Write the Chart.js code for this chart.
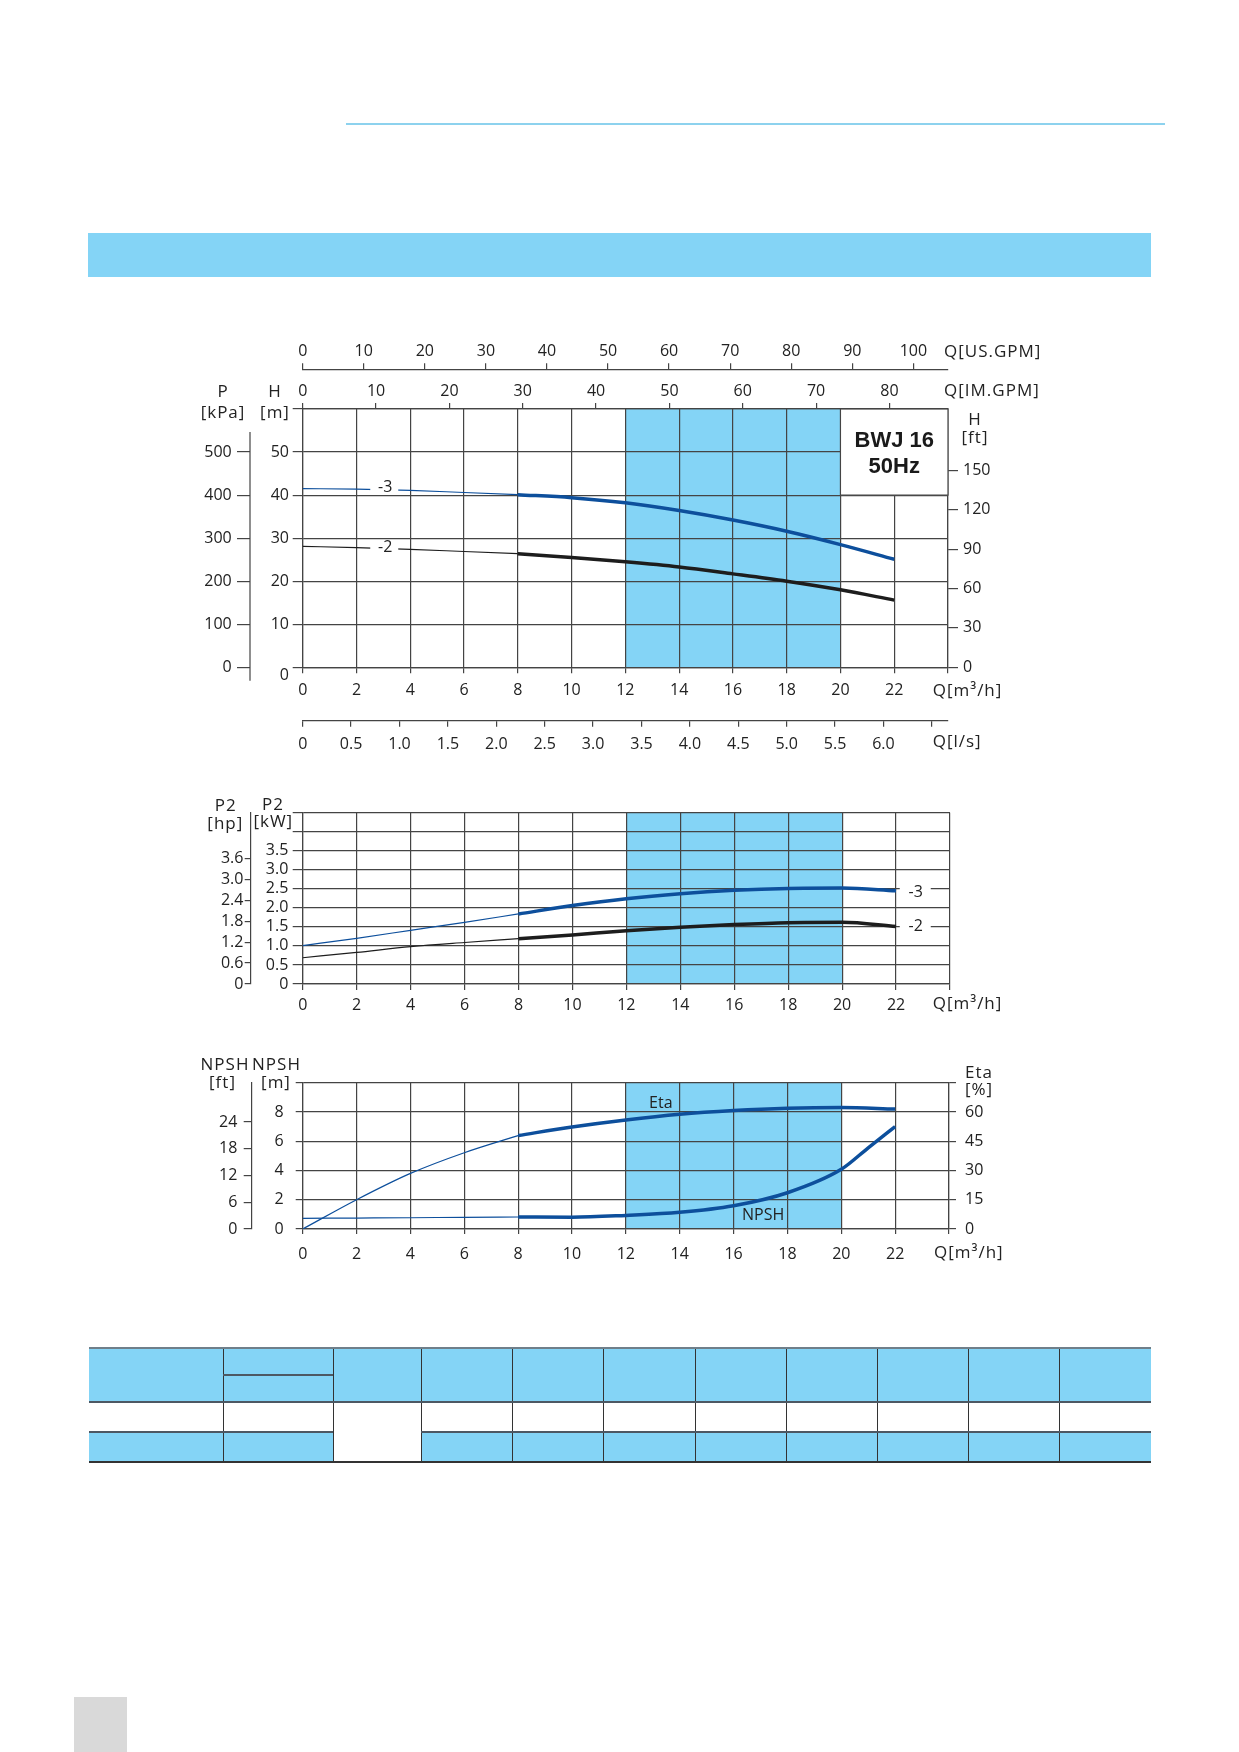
<!DOCTYPE html>
<html>
<head>
<meta charset="utf-8">
<title>BWJ 16 50Hz</title>
<script src="https://cdn.jsdelivr.net/npm/chart.js@4.4.1/dist/chart.umd.min.js"></script>
<style>
    body { margin: 0; background: #fff; }
    #page { position: relative; width: 1239px; height: 1752px; overflow: hidden; background: #fff; }
    .abs { position: absolute; }
    canvas { position: absolute; }
</style>
</head>
<body>
<div id="page">
    <div class="abs" style="left:346px;top:123px;width:819px;height:2px;background:#8dd2ee"></div>
    <div class="abs" style="left:88px;top:233px;width:1063px;height:44px;background:#84d4f6"></div>
    <canvas id="headChart" width="880" height="440" style="left:180px;top:330px"></canvas>
    <canvas id="powerChart" width="880" height="240" style="left:180px;top:790px"></canvas>
    <canvas id="npshChart" width="880" height="240" style="left:180px;top:1040px"></canvas>
    <div id="table"></div>
    <div class="abs" style="left:74px;top:1697px;width:53px;height:55px;background:#d9d9d9"></div>
</div>
<script>
// Flow points (m3/h)
const flow = [0, 2, 4, 6, 8, 10, 12, 14, 16, 18, 20, 22];
// Head H [m]
const head3 = [41.5, 41.4, 41.1, 40.6, 40.1, 39.4, 38.2, 36.4, 34.2, 31.6, 28.5, 25.1];
const head2 = [28.1, 27.8, 27.4, 26.9, 26.4, 25.5, 24.5, 23.3, 21.7, 20.0, 18.0, 15.6];
// Power P2 [kW]
const power3 = [1.01, 1.2, 1.41, 1.62, 1.84, 2.06, 2.24, 2.37, 2.46, 2.51, 2.52, 2.45];
const power2 = [0.69, 0.83, 0.98, 1.09, 1.19, 1.29, 1.40, 1.49, 1.56, 1.61, 1.62, 1.51];
// Efficiency [%]
const etaValues = [0, 15.0, 28.5, 39.1, 47.9, 52.3, 55.9, 58.8, 60.7, 61.9, 62.3, 61.5];
// NPSH [m]
const npshFlow = [0, 2, 4, 6, 8, 10, 12, 14, 16, 18, 20, 21, 22];
const npshValues = [0.73, 0.75, 0.77, 0.80, 0.82, 0.80, 0.93, 1.14, 1.59, 2.48, 4.08, 5.55, 7.0];

// Tick labels
const flowTicks = [0, 2, 4, 6, 8, 10, 12, 14, 16, 18, 20, 22, 24];
const usGpmTicks = [0, 10, 20, 30, 40, 50, 60, 70, 80, 90, 100];
const imGpmTicks = [0, 10, 20, 30, 40, 50, 60, 70, 80];
const lsTicks = [0, 0.5, 1, 1.5, 2, 2.5, 3, 3.5, 4, 4.5, 5, 5.5, 6, 6.5];
const headTicks = [0, 10, 20, 30, 40, 50, 60];
const kpaTicks = [0, 100, 200, 300, 400, 500];
const ftTicks = [0, 30, 60, 90, 120, 150];
const kwTicks = [0, 0.5, 1, 1.5, 2, 2.5, 3, 3.5, 4, 4.5];
const hpTicks = [0, 0.6, 1.2, 1.8, 2.4, 3.0, 3.6];
const npshTicks = [0, 2, 4, 6, 8, 10];
const npshFtTicks = [0, 6, 12, 18, 24];
const etaTicks = [0, 15, 30, 45, 60, 75];

Chart.defaults.font.family = '"Open Sans", "Noto Sans", sans-serif';
Chart.defaults.font.size = 16;
Chart.defaults.color = '#222';

const gridColor = '#444';
const bandColor = '#84d4f6';
const blue = '#0d4f9c';
const black = '#1d1d1d';
const tickFont = '16px "Open Sans", "Noto Sans", sans-serif';
const titleFont = '17px "Open Sans", "Noto Sans", sans-serif';

function points(xs, ys) {
    return xs.map((x, i) => ({ x: x, y: ys[i] }));
}

// thin part of a curve up to 8 m3/h, thick part from there
function curve(xs, ys, color, yAxisID) {
    const all = points(xs, ys);
    const base = { borderColor: color, pointRadius: 0, tension: 0.4, cubicInterpolationMode: 'monotone', yAxisID: yAxisID || 'y', borderCapStyle: 'butt' };
    return [
        Object.assign({ data: all.filter(p => p.x <= 8), borderWidth: 1.2 }, base),
        Object.assign({ data: all.filter(p => p.x >= 8), borderWidth: 3.5 }, base)
    ];
}

function axis(o) {
    return {
        type: 'linear',
        position: o.position,
        min: o.min,
        max: o.max,
        weight: o.weight || 0,
        afterBuildTicks: s => { s.ticks = o.ticks.map(v => ({ value: v })); },
        afterFit: s => { if (s.isHorizontal()) s.height = o.size; else s.width = o.size; },
        grid: { drawOnChartArea: !!o.onArea, drawTicks: true, tickLength: o.tickLength, color: gridColor, tickColor: gridColor, lineWidth: 1.2 },
        border: { display: o.border !== false, color: gridColor, width: 1.2 },
        ticks: { autoSkip: false, maxRotation: 0, padding: o.padding, callback: o.label || (v => String(v)) }
    };
}

const oneDecimal = v => v === 0 ? '0' : v.toFixed(1);

// light blue working range 12-20 m3/h
const bandPlugin = {
    id: 'band',
    beforeDraw(chart) {
        const { ctx, chartArea, scales } = chart;
        const x1 = scales.x.getPixelForValue(12);
        const x2 = scales.x.getPixelForValue(20);
        ctx.save();
        ctx.fillStyle = bandColor;
        ctx.fillRect(x1, chartArea.top, x2 - x1, chartArea.bottom - chartArea.top);
        ctx.restore();
    }
};

function text(ctx, str, x, y, align, font) {
    ctx.save();
    ctx.font = font || tickFont;
    ctx.fillStyle = '#222';
    ctx.textAlign = align || 'center';
    ctx.textBaseline = 'middle';
    ctx.fillText(str, x, y);
    ctx.restore();
}

// axis titles are set a little wider than the tick labels
function title(ctx, str, x, y, align) {
    ctx.save();
    ctx.letterSpacing = '1px';
    text(ctx, str, x, y, align, titleFont);
    ctx.restore();
}

// curve tag with a white gap behind it
function tag(ctx, str, x, y, gapLeft, gapRight, gapH, dy) {
    ctx.save();
    ctx.fillStyle = '#fff';
    ctx.fillRect(x - gapLeft, y - gapH / 2, gapLeft + gapRight, gapH);
    ctx.restore();
    text(ctx, str, x, y + dy);
}

// ---------- Head chart ----------
new Chart(document.getElementById('headChart'), {
    type: 'line',
    data: { datasets: [...curve(flow, head3, blue), ...curve(flow, head2, black)] },
    options: {
        responsive: false, animation: false, events: [],
        plugins: { legend: { display: false }, tooltip: { enabled: false } },
        layout: { padding: 0 },
        scales: {
            x: axis({ position: 'bottom', min: 0, max: 24, ticks: flowTicks, size: 53.4, tickLength: 6, padding: 7.8, onArea: true, label: v => v === 24 ? '' : String(v) }),
            ls: axis({ position: 'bottom', weight: 1, min: 0, max: 24 / 3.6, ticks: lsTicks, size: 49.3, tickLength: 6, padding: 7.7, label: v => v > 6.01 ? '' : oneDecimal(v) }),
            im: axis({ position: 'top', min: 0, max: 24 * 3.666, ticks: imGpmTicks, size: 39.7, tickLength: 6, padding: 2.4 }),
            us: axis({ position: 'top', weight: 1, min: 0, max: 24 * 4.403, ticks: usGpmTicks, size: 39.3, tickLength: 6, padding: 2 }),
            y: axis({ position: 'left', min: 0, max: 60, ticks: headTicks, size: 52.7, tickLength: 10, padding: 3.7, onArea: true, label: v => (v === 60 || v === 0) ? '' : String(v) }),
            kpa: axis({ position: 'left', weight: 1, min: 0, max: 600, ticks: kpaTicks, size: 70, tickLength: 13, padding: 5.3, border: false }),
            ft: axis({ position: 'right', min: 0, max: 60 / 0.3048, ticks: ftTicks, size: 112, tickLength: 10, padding: 5 })
        }
    },
    plugins: [bandPlugin, {
        id: 'headExtras',
        beforeDatasetsDraw(chart) {
            const { ctx, scales } = chart;
            const x1 = scales.x.getPixelForValue(20), x2 = scales.x.getPixelForValue(24);
            const y1 = scales.y.getPixelForValue(60), y2 = scales.y.getPixelForValue(40);
            ctx.save();
            ctx.fillStyle = '#fff';
            ctx.fillRect(x1, y1, x2 - x1, y2 - y1);
            ctx.strokeStyle = gridColor;
            ctx.lineWidth = 1.2;
            ctx.strokeRect(x1, y1, x2 - x1, y2 - y1);
            ctx.fillStyle = '#1a1a1a';
            ctx.font = 'bold 22px "Liberation Sans", Arial, sans-serif';
            ctx.textAlign = 'center';
            ctx.textBaseline = 'middle';
            ctx.fillText('BWJ 16', (x1 + x2) / 2, y1 + 32);
            ctx.fillText('50Hz', (x1 + x2) / 2, y1 + 58);
            ctx.restore();
        },
        afterDraw(chart) {
            const { ctx, scales } = chart;
            const kx = scales.kpa.right;
            ctx.save();
            ctx.strokeStyle = gridColor;
            ctx.lineWidth = 1.2;
            ctx.beginPath();
            ctx.moveTo(kx, scales.kpa.getPixelForValue(500) - 20);
            ctx.lineTo(kx, scales.kpa.getPixelForValue(0) + 13.5);
            ctx.stroke();
            ctx.restore();

            // the zero of the head scale sits a little below its line
            text(ctx, '0', scales.y.right - 13.7, scales.y.getPixelForValue(0) + 8, 'right');

            const qx = scales.x.getPixelForValue(3.07);
            tag(ctx, '-3', qx, scales.y.getPixelForValue(41.2), 15, 13, 8, -2);
            tag(ctx, '-2', qx, scales.y.getPixelForValue(27.6), 15, 13, 8, -1);

            title(ctx, 'P', 43, 62);
            title(ctx, '[kPa]', 43, 83);
            title(ctx, 'H', 95, 62);
            title(ctx, '[m]', 95, 83);
            title(ctx, 'Q[US.GPM]', 764, 22, 'left');
            title(ctx, 'Q[IM.GPM]', 764, 61, 'left');
            title(ctx, 'H', 795, 90);
            title(ctx, '[ft]', 795, 108);
            title(ctx, 'Q[m³/h]', 752.7, 360.7, 'left');
            title(ctx, 'Q[l/s]', 752.7, 411.7, 'left');
        }
    }]
});

// ---------- Power chart ----------
new Chart(document.getElementById('powerChart'), {
    type: 'line',
    data: { datasets: [...curve(flow, power3, blue), ...curve(flow, power2, black)] },
    options: {
        responsive: false, animation: false, events: [],
        plugins: { legend: { display: false }, tooltip: { enabled: false } },
        layout: { padding: { top: 22.7, right: 110, left: 0, bottom: 0 } },
        scales: {
            x: axis({ position: 'bottom', min: 0, max: 24, ticks: flowTicks, size: 46, tickLength: 6, padding: 5.4, onArea: true, label: v => v === 24 ? '' : String(v) }),
            y: axis({ position: 'left', min: 0, max: 4.5, ticks: kwTicks, size: 52, tickLength: 10, padding: 4.4, onArea: true, label: v => v > 3.6 ? '' : oneDecimal(v) }),
            hp: axis({ position: 'left', weight: 1, min: 0, max: 4.906, ticks: hpTicks, size: 70.7, tickLength: 6, padding: 1.3, label: oneDecimal })
        }
    },
    plugins: [bandPlugin, {
        id: 'powerExtras',
        afterDraw(chart) {
            const { ctx, scales } = chart;
            const tx = scales.x.getPixelForValue(22.73);
            tag(ctx, '-3', tx, scales.y.getPixelForValue(2.5), 16, 15, 6, 4);
            tag(ctx, '-2', tx, scales.y.getPixelForValue(1.5), 16, 15, 6, 0);
            title(ctx, 'P2', 45.7, 15.7);
            title(ctx, '[hp]', 45.3, 34);
            title(ctx, 'P2', 93, 15);
            title(ctx, '[kW]', 93.3, 31.7);
            title(ctx, 'Q[m³/h]', 752.7, 214.3, 'left');
        }
    }]
});

// ---------- NPSH / Eta chart ----------
new Chart(document.getElementById('npshChart'), {
    type: 'line',
    data: { datasets: [...curve(flow, etaValues, blue, 'eta'), ...curve(npshFlow, npshValues, blue)] },
    options: {
        responsive: false, animation: false, events: [],
        plugins: { legend: { display: false }, tooltip: { enabled: false } },
        layout: { padding: { top: 42.7, right: 0, left: 0, bottom: 0 } },
        scales: {
            x: axis({ position: 'bottom', min: 0, max: 24, ticks: flowTicks, size: 51, tickLength: 5, padding: 10.4, onArea: true, label: v => v === 24 ? '' : String(v) }),
            y: axis({ position: 'left', min: 0, max: 10, ticks: npshTicks, size: 51, tickLength: 7, padding: 12, onArea: true, label: v => v === 10 ? '' : String(v) }),
            ft: axis({ position: 'left', weight: 1, min: 0, max: 10 / 0.3048, ticks: npshFtTicks, size: 71.7, tickLength: 8, padding: 6.4 }),
            eta: axis({ position: 'right', min: 0, max: 75, ticks: etaTicks, size: 111, tickLength: 7, padding: 9, label: v => v === 75 ? '' : String(v) })
        }
    },
    plugins: [bandPlugin, {
        id: 'npshExtras',
        afterDraw(chart) {
            const { ctx, scales } = chart;
            text(ctx, 'Eta', scales.x.getPixelForValue(13.3), scales.eta.getPixelForValue(64.6));
            text(ctx, 'NPSH', scales.x.getPixelForValue(17.1), scales.y.getPixelForValue(0.95));
            title(ctx, 'NPSH', 45, 25);
            title(ctx, '[ft]', 42.5, 43.3);
            title(ctx, 'NPSH', 96.5, 25);
            title(ctx, '[m]', 96, 43.3);
            title(ctx, 'Eta', 785, 33, 'left');
            title(ctx, '[%]', 785, 50, 'left');
            title(ctx, 'Q[m³/h]', 754, 213.3, 'left');
        }
    }]
});

// ---------- empty data table below the charts ----------
(function buildTable() {
    const cols = [88.6, 223.2, 333, 421, 511.9, 602.9, 694.6, 785.6, 877.3, 968.3, 1059.3, 1151];
    const rows = [1348, 1402, 1432, 1462];
    const host = document.getElementById('table');
    function box(l, t, w, h, bg) {
        const d = document.createElement('div');
        d.className = 'abs';
        d.style.cssText = `left:${l}px;top:${t}px;width:${w}px;height:${h}px;background:${bg}`;
        host.appendChild(d);
    }
    for (let c = 0; c < cols.length - 1; c++) {
        for (let r = 0; r < rows.length - 1; r++) {
            const blueCell = r !== 1 && !(r === 2 && c === 2);
            box(cols[c], rows[r], cols[c + 1] - cols[c], rows[r + 1] - rows[r], blueCell ? bandColor : '#fff');
        }
    }
    for (let c = 1; c < cols.length - 1; c++) box(cols[c], rows[0], 1, rows[3] - rows[0], '#333');
    box(cols[0], rows[0] - 1, cols[11] - cols[0], 2, '#6f7f8a');
    box(cols[0], rows[1] - 1, cols[11] - cols[0], 2, '#4d5863');
    box(cols[0], rows[2] - 1, cols[2] - cols[0], 2, '#4d5863');
    box(cols[3], rows[2] - 1, cols[11] - cols[3], 2, '#4d5863');
    box(cols[0], rows[3] - 1, cols[11] - cols[0], 2, '#333');
    box(cols[1], 1374, cols[2] - cols[1], 2, '#4d5863');
})();
</script>
</body>
</html>
